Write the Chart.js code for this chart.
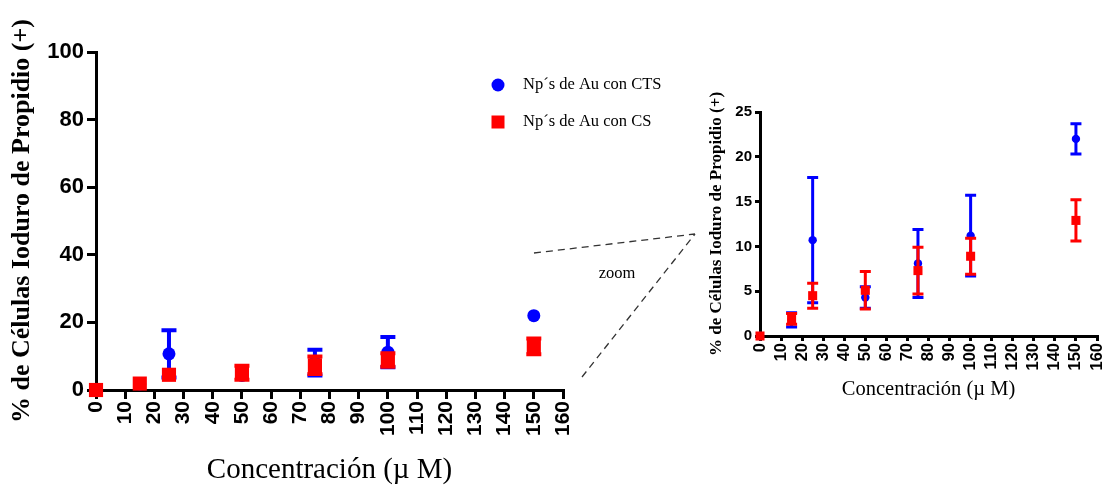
<!DOCTYPE html>
<html>
<head>
<meta charset="utf-8">
<script src="https://cdn.jsdelivr.net/npm/chart.js@4"></script>
<style>
  body { margin: 0; background: #fff; }
  #wrap { position: relative; width: 1105px; height: 489px; }
  canvas { position: absolute; }
  #mainChart { left: 0; top: 0; }
  #zoomChart { left: 690px; top: 90px; }
</style>
</head>
<body>
<div id="wrap">
  <canvas id="mainChart" width="1105" height="489"></canvas>
  <canvas id="zoomChart" width="415" height="320"></canvas>
</div>
<script>
// concentrations (uM) and % PI positive cells, mean and SD
const concentrations = [0, 15, 25, 50, 75, 100, 150];
const ctsMean = [0, 1.8, 10.7, 4.3, 8.1, 11.2, 22.0];
const ctsSd   = [0, 0.8, 7.0, 1.2, 3.8, 4.5, 1.7];
const csMean  = [0, 1.9, 4.5, 5.1, 7.3, 8.9, 12.9];
const csSd    = [0, 0.6, 1.4, 2.1, 2.6, 2.0, 2.3];

const mainYTicks = [0, 20, 40, 60, 80, 100];
const zoomYTicks = [0, 5, 10, 15, 20, 25];
const xTicks = [0, 10, 20, 30, 40, 50, 60, 70, 80, 90, 100, 110, 120, 130, 140, 150, 160];

const labelCts = "Np´s de Au con CTS";
const labelCs = "Np´s de Au con CS";
const yTitle = "% de Células Ioduro de Propidio (+)";
const xTitle = "Concentración (µ M)";

const BLUE = "#0000ff";
const RED = "#ff0000";

Chart.defaults.color = "#000";
Chart.defaults.animation = false;

function points(means) {
    return concentrations.map((c, i) => ({ x: c, y: means[i] }));
}

// mean +/- sd bars, drawn under each dataset's markers
// (like Prism, a bar hidden inside the symbol is left out)
const errorBars = {
    id: "errorBars",
    beforeDatasetDraw(chart, args, opts) {
        const ds = chart.data.datasets[args.index];
        const sd = ds.errors || [];
        const xs = chart.scales.x, ys = chart.scales.y;
        const ctx = chart.ctx;
        const symbolHalf = ds.pointStyle === "rect" ? ds.pointRadius * Math.SQRT1_2 : ds.pointRadius;
        ctx.save();
        ctx.strokeStyle = ds.borderColor;
        ctx.lineWidth = opts.lineWidth;
        ds.data.forEach((p, i) => {
            if (!sd[i]) return;
            const x = xs.getPixelForValue(p.x);
            const y = ys.getPixelForValue(p.y);
            const yTop = ys.getPixelForValue(p.y + sd[i]);
            const yBot = ys.getPixelForValue(p.y - sd[i]);
            if (y - yTop <= symbolHalf * 0.9) return;
            const half = opts.capWidth / 2;
            ctx.beginPath();
            ctx.moveTo(x, yTop); ctx.lineTo(x, yBot);
            ctx.moveTo(x - half, yTop); ctx.lineTo(x + half, yTop);
            ctx.moveTo(x - half, yBot); ctx.lineTo(x + half, yBot);
            ctx.stroke();
        });
        ctx.restore();
    }
};

// legend, zoom guide lines and label on the big chart
const extras = {
    id: "extras",
    afterDraw(chart) {
        const ctx = chart.ctx;
        ctx.save();
        ctx.fillStyle = BLUE;
        ctx.beginPath();
        ctx.arc(498, 85, 6.5, 0, Math.PI * 2);
        ctx.fill();
        ctx.fillStyle = RED;
        ctx.fillRect(491.5, 115.5, 13, 13);

        ctx.fillStyle = "#000";
        ctx.font = "16.5px 'Liberation Serif'";
        ctx.textBaseline = "middle";
        ctx.fillText(labelCts, 523, 85);
        ctx.fillText(labelCs, 523, 122);

        ctx.strokeStyle = "#333";
        ctx.lineWidth = 1.3;
        ctx.setLineDash([7, 5]);
        ctx.beginPath();
        ctx.moveTo(534, 253); ctx.lineTo(695, 234);
        ctx.moveTo(582, 377); ctx.lineTo(695, 234);
        ctx.stroke();
        ctx.setLineDash([]);
        ctx.textAlign = "center";
        ctx.fillText("zoom", 617, 274);
        ctx.restore();
    }
};

function makeConfig(o) {
    return {
        type: "scatter",
        data: {
            datasets: [
                {
                    label: labelCts, data: points(ctsMean), errors: ctsSd,
                    backgroundColor: BLUE, borderColor: BLUE, borderWidth: 0,
                    pointStyle: "circle", pointRadius: o.circleR, order: 2, clip: false
                },
                {
                    label: labelCs, data: points(csMean), errors: csSd,
                    backgroundColor: RED, borderColor: RED, borderWidth: 0,
                    pointStyle: "rect", pointRadius: o.rectR, order: 1, clip: false
                }
            ]
        },
        options: {
            responsive: false,
            layout: { padding: o.padding },
            plugins: {
                legend: { display: false },
                tooltip: { enabled: false },
                errorBars: { lineWidth: o.barWidth, capWidth: o.capWidth }
            },
            scales: {
                x: {
                    type: "linear", min: 0, max: 160,
                    afterBuildTicks: s => { s.ticks = xTicks.map(v => ({ value: v })); },
                    afterFit: s => { s.height = o.xHeight; s.paddingLeft = 0; s.paddingRight = 0; },
                    border: { display: true, color: "#000", width: 3 },
                    grid: { drawOnChartArea: false, drawTicks: true, tickLength: o.tickLen, color: "#000", lineWidth: 3 },
                    ticks: {
                        autoSkip: false, minRotation: 90, maxRotation: 90, padding: 2,
                        font: { family: "'Liberation Sans'", weight: "bold", size: o.tickSize }
                    },
                    title: {
                        display: true, text: xTitle,
                        font: { family: "'Liberation Serif'", size: o.xTitleSize },
                        padding: { top: 0, bottom: o.xTitlePad }
                    }
                },
                y: {
                    type: "linear", min: 0, max: o.yMax,
                    afterBuildTicks: s => { s.ticks = o.yTicks.map(v => ({ value: v })); },
                    afterFit: s => { s.width = o.yWidth; },
                    border: { display: true, color: "#000", width: 3 },
                    grid: { drawOnChartArea: false, drawTicks: true, tickLength: o.tickLen, color: "#000", lineWidth: 3 },
                    ticks: {
                        padding: 3,
                        font: { family: "'Liberation Sans'", weight: "bold", size: o.yTickSize }
                    },
                    title: {
                        display: true, text: yTitle,
                        font: { family: "'Liberation Serif'", weight: "bold", size: o.yTitleSize },
                        padding: { top: o.yTitlePad, bottom: 0 }
                    }
                }
            }
        },
        plugins: o.plugins
    };
}

new Chart(document.getElementById("mainChart"), makeConfig({
    padding: { left: 0, top: 52, right: 542, bottom: 0 },
    xHeight: 99, yWidth: 96, yMax: 100, yTicks: mainYTicks,
    tickLen: 9, tickSize: 21, yTickSize: 22,
    xTitleSize: 29, xTitlePad: 1, yTitleSize: 26, yTitlePad: 7,
    circleR: 6.5, rectR: 10, barWidth: 4, capWidth: 15,
    plugins: [errorBars, extras]
}));

new Chart(document.getElementById("zoomChart"), makeConfig({
    padding: { left: 0, top: 22, right: 8, bottom: 0 },
    xHeight: 74, yWidth: 70, yMax: 25, yTicks: zoomYTicks,
    tickLen: 5, tickSize: 16.5, yTickSize: 15,
    xTitleSize: 20.5, xTitlePad: 8, yTitleSize: 17, yTitlePad: 16,
    circleR: 4.2, rectR: 6.4, barWidth: 3, capWidth: 11,
    plugins: [errorBars]
}));
</script>
</body>
</html>
